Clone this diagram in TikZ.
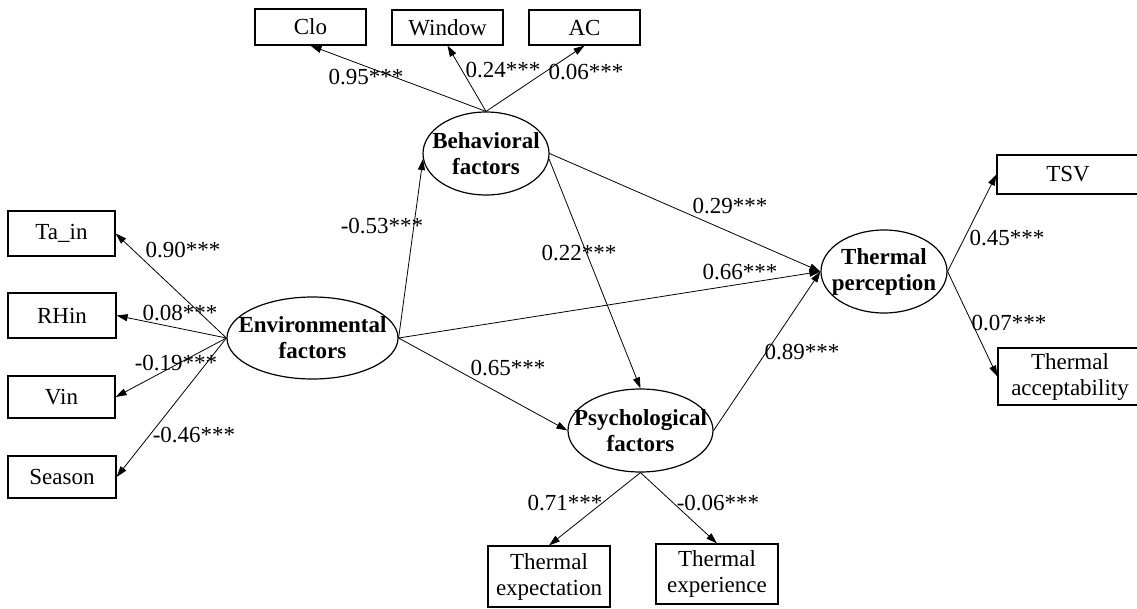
\documentclass[tikz,border=0pt]{standalone}
\usepackage{fontspec}
\setmainfont{Liberation Serif}
\usetikzlibrary{arrows.meta,shapes.geometric}
\begin{document}
\begin{tikzpicture}[x=1pt,y=-1pt,
  every node/.style={font=\fontsize{23}{26}\selectfont},
  obs/.style={draw, line width=1.2pt, rectangle, inner sep=0pt, align=center},
  lat/.style={draw, line width=1.2pt, ellipse, inner sep=0pt},
  lattext/.style={inner sep=0pt, align=center, font=\fontsize{23}{26}\selectfont\bfseries},
  link/.style={-{Triangle[length=11pt,width=7pt]}, line width=0.8pt},
  coef/.style={inner sep=0pt}]
\useasboundingbox (0,0) rectangle (1137,608);

% latent variables: fixed ellipse outlines with centred bold captions
\node[lat, minimum width=171pt, minimum height=82pt,
      label={[lattext]center:Environmental\\factors}] (env) at (312.5,338) {};
\node[lat, minimum width=126pt, minimum height=83pt,
      label={[lattext]center:Behavioral\\factors}] (beh) at (486,153.5) {};
\node[lat, minimum width=145pt, minimum height=83pt,
      label={[lattext]center:Psychological\\factors}] (psy) at (640.5,430.5) {};
\node[lat, minimum width=126pt, minimum height=83pt,
      label={[lattext]center:Thermal\\perception}] (tp) at (884,271.5) {};

% observed indicators
\node[obs, minimum width=111pt, minimum height=36pt] (clo) at (310.5,27) {Clo};
\node[obs, minimum width=111pt, minimum height=35pt] (win) at (447.5,27.5) {Window};
\node[obs, minimum width=111pt, minimum height=35pt] (ac)  at (584.5,27.5) {AC};
\node[obs, minimum width=107pt, minimum height=45pt] (tain) at (61.5,233.5) {Ta\_in};
\node[obs, minimum width=108pt, minimum height=45pt] (rhin) at (62,315.5) {RHin};
\node[obs, minimum width=107pt, minimum height=42pt] (vin)  at (61.5,397) {Vin};
\node[obs, minimum width=108pt, minimum height=42pt] (season) at (62,477) {Season};
\node[obs, minimum width=142pt, minimum height=39pt] (tsv) at (1068,174.5) {TSV};
\node[obs, minimum width=144pt, minimum height=57pt] (tacc) at (1070,376.5) {Thermal\\acceptability};
\node[obs, minimum width=122pt, minimum height=61pt] (texp) at (549,576.5) {Thermal\\expectation};
\node[obs, minimum width=122pt, minimum height=60pt] (texr) at (717,574) {Thermal\\experience};

% paths
\draw[link] (beh.north) -- (clo.south);
\draw[link] (beh.north) -- (win.south);
\draw[link] (beh.north) -- (ac.south);
\draw[link] (env.west) -- (tain.east);
\draw[link] (env.west) -- (rhin.east);
\draw[link] (env.west) -- (vin.east);
\draw[link] (env.west) -- (season.east);
\draw[link] (env.east) -- (beh.185);
\draw[link] (env.east) -- (tp.west);
\draw[link] (env.east) -- (psy.west);
\draw[link] (beh.east) -- (tp.west);
\draw[link] (beh.-5) -- (psy.north);
\draw[link] (psy.east) -- (tp.west);
\draw[link] (psy.south) -- (texp.north);
\draw[link] (psy.south) -- (texr.north);
\draw[link] (tp.east) -- (tsv.west);
\draw[link] (tp.east) -- (tacc.west);

% coefficients
\node[coef] (c1)  at (366,77)  {0.95***};
\node[coef] (c2)  at (503,70)  {0.24***};
\node[coef] (c3)  at (586,72)  {0.06***};
\node[coef] (c4)  at (382,226) {-0.53***};
\node[coef] (c5)  at (183,250) {0.90***};
\node[coef] (c6)  at (180,313) {0.08***};
\node[coef] (c7)  at (176,363) {-0.19***};
\node[coef] (c8)  at (194,435) {-0.46***};
\node[coef] (c9)  at (579,253) {0.22***};
\node[coef] (c10) at (508,368) {0.65***};
\node[coef] (c11) at (730,206) {0.29***};
\node[coef] (c12) at (740,272) {0.66***};
\node[coef] (c13) at (802,352) {0.89***};
\node[coef] (c14) at (1007,238) {0.45***};
\node[coef] (c15) at (1009,323) {0.07***};
\node[coef] (c16) at (565,503) {0.71***};
\node[coef] (c17) at (718,503) {-0.06***};
\end{tikzpicture}
\end{document}
